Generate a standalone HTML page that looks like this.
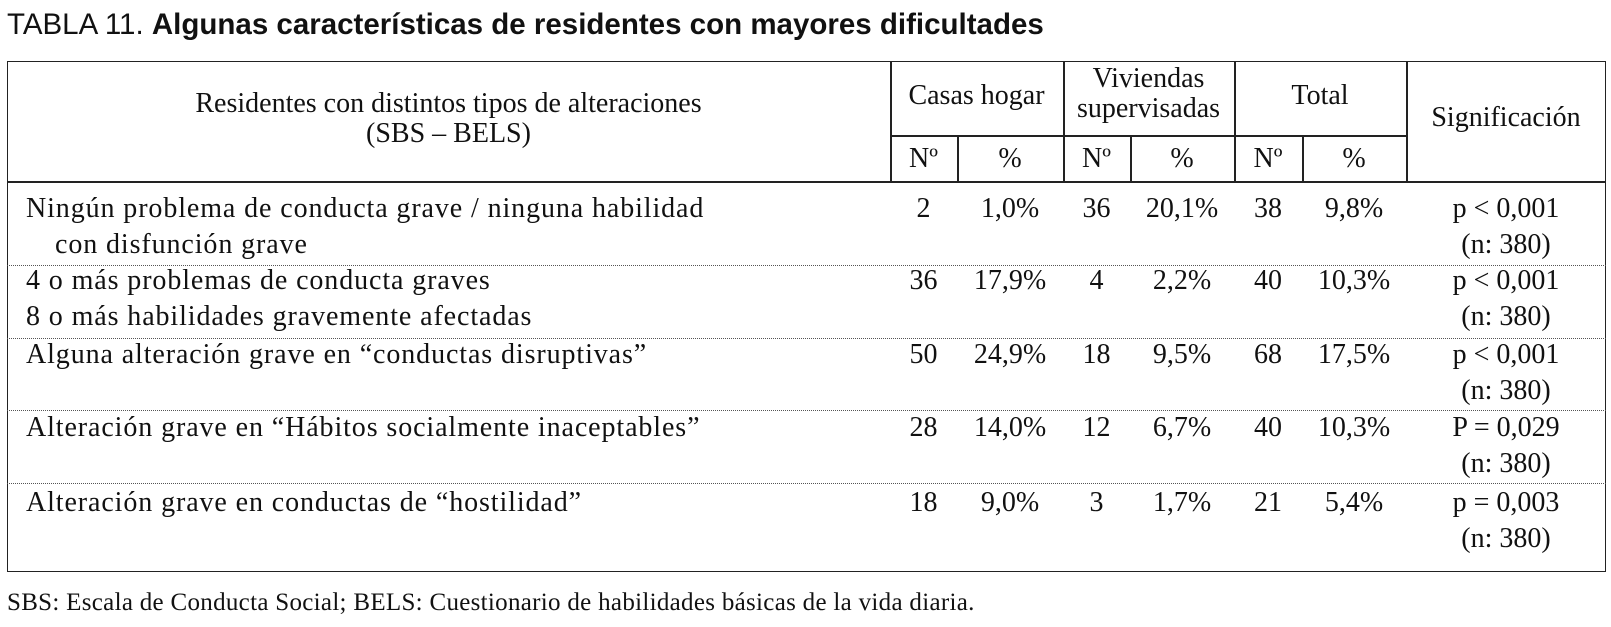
<!DOCTYPE html>
<html><head><meta charset="utf-8">
<style>
body{margin:0;background:#fff;width:1611px;height:627px;position:relative;overflow:hidden;color:#111;}
.t{position:absolute;font-family:"Liberation Serif",serif;font-size:28px;white-space:nowrap;line-height:30px;height:30px;}
.c{text-align:center;}
.l{letter-spacing:0.9px;}
.h{position:absolute;background:#222;height:1.5px;}
.v{position:absolute;background:#222;width:1.5px;}
.d{position:absolute;height:0;border-top:1.5px dotted #555;left:7px;width:1599px;}
</style></head><body>
<div class="t" style="left:7px;top:10px;font-family:'Liberation Sans',sans-serif;font-size:29.5px;">TABLA 11. <b>Algunas características de residentes con mayores dificultades</b></div>

<div style="position:absolute;left:7px;top:61px;width:1597px;height:509px;border:1.5px solid #222;"></div>
<div class="h" style="left:7px;top:181px;width:1599px;"></div>
<div class="h" style="left:890px;top:135px;width:516px;"></div>
<div class="v" style="left:890px;top:61px;height:120px;"></div>
<div class="v" style="left:957px;top:135px;height:46px;"></div>
<div class="v" style="left:1063px;top:61px;height:120px;"></div>
<div class="v" style="left:1130px;top:135px;height:46px;"></div>
<div class="v" style="left:1234px;top:61px;height:120px;"></div>
<div class="v" style="left:1302px;top:135px;height:46px;"></div>
<div class="v" style="left:1406px;top:61px;height:120px;"></div>

<div class="d" style="top:265px"></div>
<div class="d" style="top:338px"></div>
<div class="d" style="top:410px"></div>
<div class="d" style="top:483px"></div>

<!-- header -->
<div class="t c" style="left:7px;width:883px;top:89px;">Residentes con distintos tipos de alteraciones</div>
<div class="t c" style="left:7px;width:883px;top:119px;">(SBS – BELS)</div>
<div class="t c" style="left:890px;width:173px;top:81px;">Casas hogar</div>
<div class="t c" style="left:1063px;width:171px;top:64px;">Viviendas</div>
<div class="t c" style="left:1063px;width:171px;top:94px;">supervisadas</div>
<div class="t c" style="left:1234px;width:172px;top:81px;">Total</div>
<div class="t c" style="left:1406px;width:200px;top:103px;">Significación</div>
<div class="t c" style="left:890px;width:67px;top:144px;">Nº</div>
<div class="t c" style="left:957px;width:106px;top:144px;">%</div>
<div class="t c" style="left:1063px;width:67px;top:144px;">Nº</div>
<div class="t c" style="left:1130px;width:104px;top:144px;">%</div>
<div class="t c" style="left:1234px;width:68px;top:144px;">Nº</div>
<div class="t c" style="left:1302px;width:104px;top:144px;">%</div>

<!-- rows -->
<div>
<div class="t l" style="left:26px;top:194px">Ningún problema de conducta grave / ninguna habilidad</div>
<div class="t l" style="left:55px;top:230px">con disfunción grave</div>
<div class="t c" style="left:890px;width:67px;top:194px">2</div>
<div class="t c" style="left:957px;width:106px;top:194px">1,0%</div>
<div class="t c" style="left:1063px;width:67px;top:194px">36</div>
<div class="t c" style="left:1130px;width:104px;top:194px">20,1%</div>
<div class="t c" style="left:1234px;width:68px;top:194px">38</div>
<div class="t c" style="left:1302px;width:104px;top:194px">9,8%</div>
<div class="t c" style="left:1406px;width:200px;top:194px">p &lt; 0,001</div>
<div class="t c" style="left:1406px;width:200px;top:230px">(n: 380)</div>
</div>
<div>
<div class="t l" style="left:26px;top:266px">4 o más problemas de conducta graves</div>
<div class="t l" style="left:26px;top:302px">8 o más habilidades gravemente afectadas</div>
<div class="t c" style="left:890px;width:67px;top:266px">36</div>
<div class="t c" style="left:957px;width:106px;top:266px">17,9%</div>
<div class="t c" style="left:1063px;width:67px;top:266px">4</div>
<div class="t c" style="left:1130px;width:104px;top:266px">2,2%</div>
<div class="t c" style="left:1234px;width:68px;top:266px">40</div>
<div class="t c" style="left:1302px;width:104px;top:266px">10,3%</div>
<div class="t c" style="left:1406px;width:200px;top:266px">p &lt; 0,001</div>
<div class="t c" style="left:1406px;width:200px;top:302px">(n: 380)</div>
</div>
<div>
<div class="t l" style="left:26px;top:340px">Alguna alteración grave en “conductas disruptivas”</div>
<div class="t c" style="left:890px;width:67px;top:340px">50</div>
<div class="t c" style="left:957px;width:106px;top:340px">24,9%</div>
<div class="t c" style="left:1063px;width:67px;top:340px">18</div>
<div class="t c" style="left:1130px;width:104px;top:340px">9,5%</div>
<div class="t c" style="left:1234px;width:68px;top:340px">68</div>
<div class="t c" style="left:1302px;width:104px;top:340px">17,5%</div>
<div class="t c" style="left:1406px;width:200px;top:340px">p &lt; 0,001</div>
<div class="t c" style="left:1406px;width:200px;top:376px">(n: 380)</div>
</div>
<div>
<div class="t l" style="left:26px;top:413px">Alteración grave en “Hábitos socialmente inaceptables”</div>
<div class="t c" style="left:890px;width:67px;top:413px">28</div>
<div class="t c" style="left:957px;width:106px;top:413px">14,0%</div>
<div class="t c" style="left:1063px;width:67px;top:413px">12</div>
<div class="t c" style="left:1130px;width:104px;top:413px">6,7%</div>
<div class="t c" style="left:1234px;width:68px;top:413px">40</div>
<div class="t c" style="left:1302px;width:104px;top:413px">10,3%</div>
<div class="t c" style="left:1406px;width:200px;top:413px">P = 0,029</div>
<div class="t c" style="left:1406px;width:200px;top:449px">(n: 380)</div>
</div>
<div>
<div class="t l" style="left:26px;top:488px">Alteración grave en conductas de “hostilidad”</div>
<div class="t c" style="left:890px;width:67px;top:488px">18</div>
<div class="t c" style="left:957px;width:106px;top:488px">9,0%</div>
<div class="t c" style="left:1063px;width:67px;top:488px">3</div>
<div class="t c" style="left:1130px;width:104px;top:488px">1,7%</div>
<div class="t c" style="left:1234px;width:68px;top:488px">21</div>
<div class="t c" style="left:1302px;width:104px;top:488px">5,4%</div>
<div class="t c" style="left:1406px;width:200px;top:488px">p = 0,003</div>
<div class="t c" style="left:1406px;width:200px;top:524px">(n: 380)</div>
</div>

<div class="t" style="left:7px;top:588px;font-size:25px;letter-spacing:0.3px">SBS: Escala de Conducta Social; BELS: Cuestionario de habilidades básicas de la vida diaria.</div>
</body></html>
